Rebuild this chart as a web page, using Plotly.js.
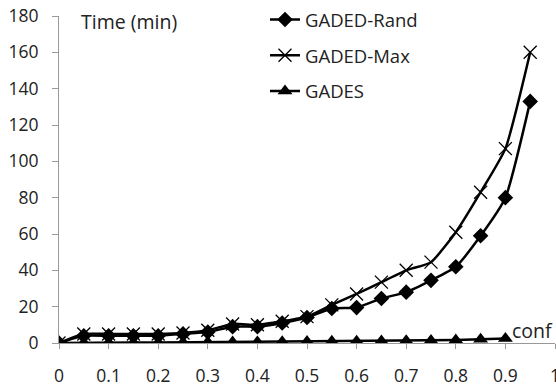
<!DOCTYPE html>
<html>
<head>
<meta charset="utf-8">
<script src="https://cdn.plot.ly/plotly-3.0.1.min.js"></script>
<style>html,body{margin:0;padding:0;background:#fff}#chart{width:556px;height:389px}</style>
</head>
<body>
<div id="chart"></div>
<script>
var confX = [0,0.05,0.1,0.15,0.2,0.25,0.3,0.35,0.4,0.45,0.5,0.55,0.6,0.65,0.7,0.75,0.8,0.85,0.9,0.95];
var gadedRand = [0,4,4,4,4,5,6,9,9,11,14,19,19.5,24.5,28,34.5,42,59,80,133];
var gadedMax = [0,5,5,5,5,5.5,7,10.5,10,12,14.5,21,27,33.5,40,44.5,61,83,107,160];
var gadesX = [0,0.05,0.1,0.15,0.2,0.25,0.3,0.35,0.4,0.45,0.5,0.55,0.6,0.65,0.7,0.75,0.8,0.85,0.9];
var gades = [0,0.2,0.3,0.3,0.3,0.4,0.5,0.5,0.6,0.7,0.8,0.9,1,1.1,1.2,1.4,1.6,2,2.5];
var seriesNames = ['GADED-Rand','GADED-Max','GADES'];
var xTicks = [0,0.1,0.2,0.3,0.4,0.5,0.6,0.7,0.8,0.9,1];
var yTicks = [0,20,40,60,80,100,120,140,160,180];

var FONT = '"Open Sans", sans-serif';
var FS = 17.5;
var TXT = '#222';
var traces = [
  {x: confX, y: gadedRand, name: seriesNames[0], type: 'scatter', mode: 'lines+markers',
   line: {color: '#000', width: 2.5, shape: 'spline', smoothing: 0.5},
   marker: {symbol: 'diamond', size: 12, color: '#000'}, legend: 'legend'},
  {x: confX, y: gadedMax, name: seriesNames[1], type: 'scatter', mode: 'lines+markers',
   line: {color: '#000', width: 2.5, shape: 'spline', smoothing: 0.5},
   marker: {symbol: 'x-thin-open', size: 13, color: '#000', line: {width: 1.3, color: '#000'}}, legend: 'legend2'},
  {x: gadesX, y: gades, name: seriesNames[2], type: 'scatter', mode: 'lines+markers',
   line: {color: '#000', width: 2.5},
   marker: {symbol: 'triangle-up', size: 13, color: '#000'}, legend: 'legend3'}
];
function leg(yp){
  return {x: (265-59)/496, y: yp, xanchor: 'left', yanchor: 'middle', xref: 'paper', yref: 'paper',
    bgcolor: 'rgba(0,0,0,0)', font: {family: FONT, size: 18.5, color: TXT}, itemwidth: 30};
}
var layout = {
  width: 556, height: 389,
  margin: {l: 59, r: 1, t: 14, b: 46},
  paper_bgcolor: '#fff', plot_bgcolor: '#fff',
  font: {family: FONT, size: FS, color: TXT},
  showlegend: true,
  legend: leg((343-18)/329),
  legend2: leg((343-54)/329),
  legend3: leg((343-90)/329),
  xaxis: {range: [0, 1], tickvals: xTicks, ticktext: xTicks.map(String),
    showgrid: false, zeroline: false, showline: true, linecolor: '#999', linewidth: 1,
    ticks: 'outside', ticklen: 5, tickcolor: '#999', ticklabelstandoff: 12,
    ticklabeloverflow: 'allow',
    tickfont: {family: FONT, size: FS, color: TXT}, fixedrange: true},
  yaxis: {range: [0, 180], tickvals: yTicks, ticktext: yTicks.map(String),
    showgrid: false, zeroline: false, showline: true, linecolor: '#999', linewidth: 1,
    ticks: 'outside', ticklen: 6, tickcolor: '#999', ticklabelstandoff: 10,
    tickfont: {family: FONT, size: FS, color: TXT}, fixedrange: true},
  annotations: [
    {text: 'Time (min)', xref: 'paper', yref: 'paper', x: (79-59)/496, y: (343-20)/329,
     xanchor: 'left', yanchor: 'middle', showarrow: false, font: {family: FONT, size: 19.5, color: TXT}},
    {text: 'conf', xref: 'paper', yref: 'paper', x: (510-59)/496, y: (343-330)/329,
     xanchor: 'left', yanchor: 'middle', showarrow: false, font: {family: FONT, size: 19.5, color: TXT}}
  ]
};
Plotly.newPlot('chart', traces, layout, {staticPlot: true, displayModeBar: false});
</script>
</body>
</html>
